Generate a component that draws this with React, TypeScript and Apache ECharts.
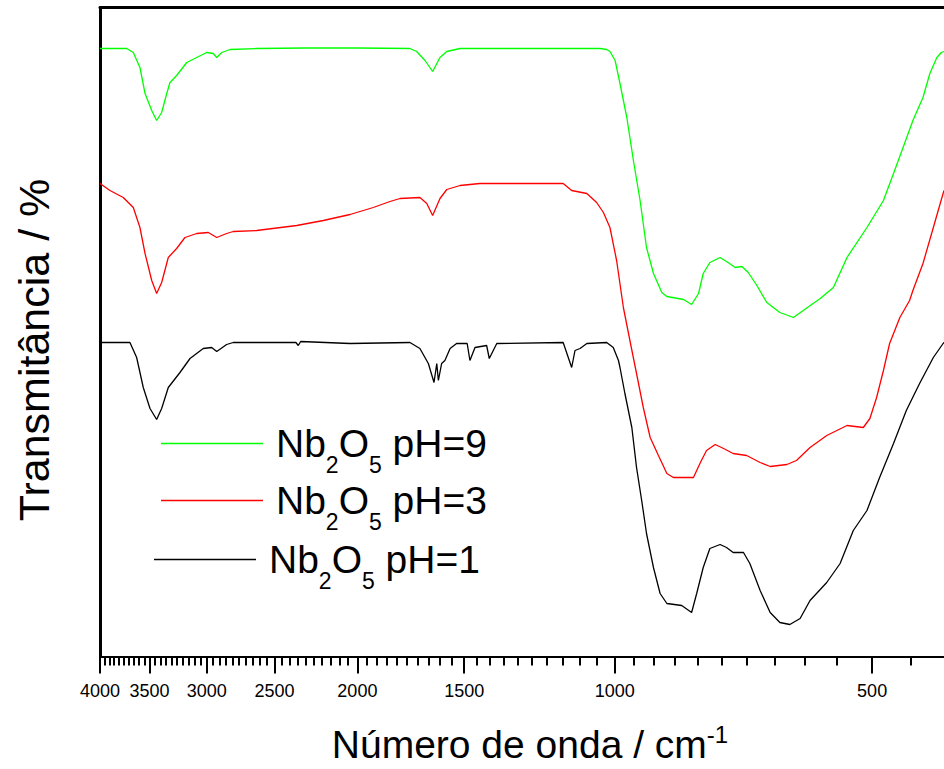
import React, { useEffect, useRef } from "react";
import * as echarts from "echarts";

// x: wavenumber (cm^-1), y: transmittance (arbitrary offset units)
const majorTicks = [4000, 3500, 3000, 2500, 2000, 1500, 1000, 500];
const minorTicks: number[] = [];
for (let v = 450; v <= 4000; v += 50) minorTicks.push(v);

const seriesNames = ["Nb2O5 pH=9", "Nb2O5 pH=3", "Nb2O5 pH=1"];
const phLabels = ["9", "3", "1"];
const colors = ["#00ff00", "#ff0000", "#000000"];

const pH9: [number, number][] = [
  [4000, 608], [3850, 608], [3722, 608], [3657, 604], [3592, 589], [3543, 563], [3480, 546],
  [3434, 536], [3388, 544], [3342, 563], [3313, 574], [3254, 581], [3167, 594], [3083, 599],
  [3001, 604], [2948, 603], [2921, 599], [2882, 604], [2818, 607], [2623, 608], [2300, 608.5],
  [2000, 608.5], [1736, 608], [1705, 605], [1667, 596], [1633, 585], [1601, 599], [1572, 605],
  [1517, 608], [1300, 608], [1150, 608], [1040, 608], [1022, 607], [1013, 605], [999, 596],
  [986, 573], [968, 539], [951, 496], [934, 456], [918, 409], [901, 383], [881, 364], [869, 360],
  [831, 357], [813, 352], [798, 363], [788, 383], [774, 394], [753, 399], [737, 394], [723, 389],
  [710, 390], [698, 384], [682, 371], [664, 354], [641, 344], [618, 339], [602, 346], [575, 358],
  [555, 369], [535, 399], [507, 429], [485, 456], [472, 483], [460, 509], [448, 536], [436, 559],
  [428, 583], [420, 599], [415, 604], [412, 605],
];

const pH3: [number, number][] = [
  [4000, 473], [3894, 466], [3757, 459], [3657, 449], [3592, 429], [3543, 403], [3480, 376],
  [3434, 363], [3388, 374], [3328, 399], [3254, 408], [3182, 419], [3083, 423], [2988, 424],
  [2921, 419], [2844, 423], [2794, 425], [2623, 426], [2355, 431], [2192, 436], [2040, 442],
  [1916, 449], [1832, 455], [1783, 458], [1690, 459], [1659, 453], [1633, 441], [1601, 458],
  [1572, 467], [1517, 471], [1438, 473], [1149, 473], [1123, 466], [1078, 463], [1050, 454],
  [1031, 444], [1013, 429], [995, 396], [977, 349], [960, 316], [943, 283], [926, 249], [909, 219],
  [889, 201], [869, 183], [854, 179], [809, 179], [795, 193], [781, 206], [763, 212], [746, 208],
  [727, 203], [701, 201], [676, 194], [658, 190], [629, 192], [613, 196], [591, 209], [565, 221],
  [535, 231], [512, 229], [503, 238], [494, 259], [485, 286], [477, 313], [464, 339], [452, 356],
  [448, 366], [436, 393], [424, 429], [413, 463], [412, 466],
];

const pH1: [number, number][] = [
  [4000, 314], [3690, 314], [3624, 299], [3560, 269], [3496, 248], [3434, 237], [3388, 248],
  [3328, 269], [3225, 284], [3139, 298], [3029, 308], [2961, 309], [2921, 305], [2844, 312],
  [2794, 314], [2360, 314], [2345, 311], [2330, 315], [2040, 313], [1736, 314], [1690, 308],
  [1652, 293], [1627, 274], [1615, 293], [1608, 276], [1594, 293], [1580, 296], [1558, 308],
  [1531, 313], [1488, 313], [1477, 296], [1457, 309], [1412, 311], [1402, 298], [1374, 313],
  [1149, 314], [1123, 289], [1113, 306], [1098, 308], [1078, 313], [1022, 314], [1004, 309],
  [990, 296], [986, 289], [973, 263], [955, 229], [943, 189], [930, 156], [918, 123], [901, 89],
  [885, 63], [869, 53], [835, 51], [813, 44], [802, 63], [788, 89], [774, 108], [753, 112],
  [740, 109], [727, 104], [707, 104], [695, 93], [676, 66], [658, 44], [641, 34], [624, 32],
  [607, 38], [591, 56], [565, 74], [545, 93], [526, 126], [507, 146], [490, 179], [472, 213],
  [456, 246], [440, 273], [424, 299], [413, 313], [412, 314],
];

const seriesData = [pH9, pH3, pH1];
const legendPos = [
  { left: 161, top: 424 },
  { left: 161, top: 481 },
  { left: 154, top: 540 },
];

const FONT = "'Liberation Sans', Arial, Helvetica, sans-serif";
const X_MIN = 412;
const X_MAX = 4000;

export default function App() {
  const ref = useRef<HTMLDivElement>(null);
  useEffect(() => {
    if (!ref.current) return;
    const chart = echarts.init(ref.current, undefined, { renderer: "svg" });
    const richLegend = {
      a: { fontSize: 39, fontFamily: FONT, color: "#000", padding: [0, 0, 0, 8] },
      n: { fontSize: 39, fontFamily: FONT, color: "#000" },
      s: { fontSize: 23, fontFamily: FONT, color: "#000", padding: [43, 0, 0, 0] },
    };
    const option: any = {
      animation: false,
      backgroundColor: "#fff",
      grid: { left: 100, right: 0, top: 7.5, bottom: 112.5, outerBoundsMode: "none" },
      xAxis: [
        {
          type: "log",
          logBase: 10,
          min: X_MIN,
          max: X_MAX,
          inverse: true,
          position: "bottom",
          axisLine: { show: true, onZero: false, lineStyle: { color: "#000", width: 2 } },
          axisTick: { show: true, customValues: majorTicks, length: 17, lineStyle: { color: "#000", width: 2 } },
          axisLabel: {
            show: true,
            customValues: majorTicks,
            interval: 0,
            margin: 25,
            fontSize: 18,
            fontFamily: FONT,
            color: "#000",
            formatter: (v: number) => String(Math.round(v)),
          },
          splitLine: { show: false },
          minorTick: { show: false },
          name: "{a|Número de onda / cm}{b|-1}",
          nameLocation: "middle",
          nameGap: 66,
          nameTextStyle: {
            color: "#000",
            fontFamily: FONT,
            fontSize: 39,
            padding: [0, 0, 0, 16],
            rich: {
              a: { fontSize: 39, fontFamily: FONT, color: "#000" },
              b: { fontSize: 24, fontFamily: FONT, color: "#000", padding: [0, 0, 20, 0] },
            },
          },
        },
        {
          type: "log",
          logBase: 10,
          min: X_MIN,
          max: X_MAX,
          inverse: true,
          position: "bottom",
          axisLine: { show: false, onZero: false },
          axisTick: { show: true, customValues: minorTicks, length: 9, lineStyle: { color: "#000", width: 2 } },
          axisLabel: { show: false },
          splitLine: { show: false },
        },
        {
          type: "value",
          min: 0,
          max: 1,
          position: "top",
          axisLine: { show: true, onZero: false, lineStyle: { color: "#000", width: 3 } },
          axisTick: { show: false },
          axisLabel: { show: false },
          splitLine: { show: false },
        },
      ],
      yAxis: {
        type: "value",
        min: 0,
        max: 649,
        axisLine: { show: true, onZero: false, lineStyle: { color: "#000", width: 3 } },
        axisTick: { show: false },
        axisLabel: { show: false },
        splitLine: { show: false },
        name: "Transmitância / %",
        nameLocation: "middle",
        nameGap: 45,
        nameTextStyle: { color: "#000", fontFamily: FONT, fontSize: 43, padding: [0, 36, 0, 0] },
      },
      legend: seriesNames.map((name, i) => ({
        data: [name],
        left: legendPos[i].left,
        top: legendPos[i].top,
        padding: 0,
        icon: "rect",
        itemWidth: 102,
        itemHeight: 1.3,
        selectedMode: false,
        formatter: () => `{a|Nb}{s|2}{n|O}{s|5}{n| pH=${phLabels[i]}}`,
        textStyle: { fontSize: 39, fontFamily: FONT, color: "#000", rich: richLegend },
      })),
      series: seriesNames.map((name, i) => ({
        name,
        type: "line",
        xAxisIndex: 0,
        yAxisIndex: 0,
        data: seriesData[i],
        symbol: "none",
        showSymbol: false,
        smooth: false,
        color: colors[i],
        itemStyle: { color: colors[i] },
        lineStyle: { color: colors[i], width: 1.3 },
      })),
    };
    chart.setOption(option);
    return () => chart.dispose();
  }, []);
  return (
    <div
      ref={ref}
      style={{ position: "absolute", left: 0, top: 0, width: 944, height: 769, background: "#fff" }}
    />
  );
}
